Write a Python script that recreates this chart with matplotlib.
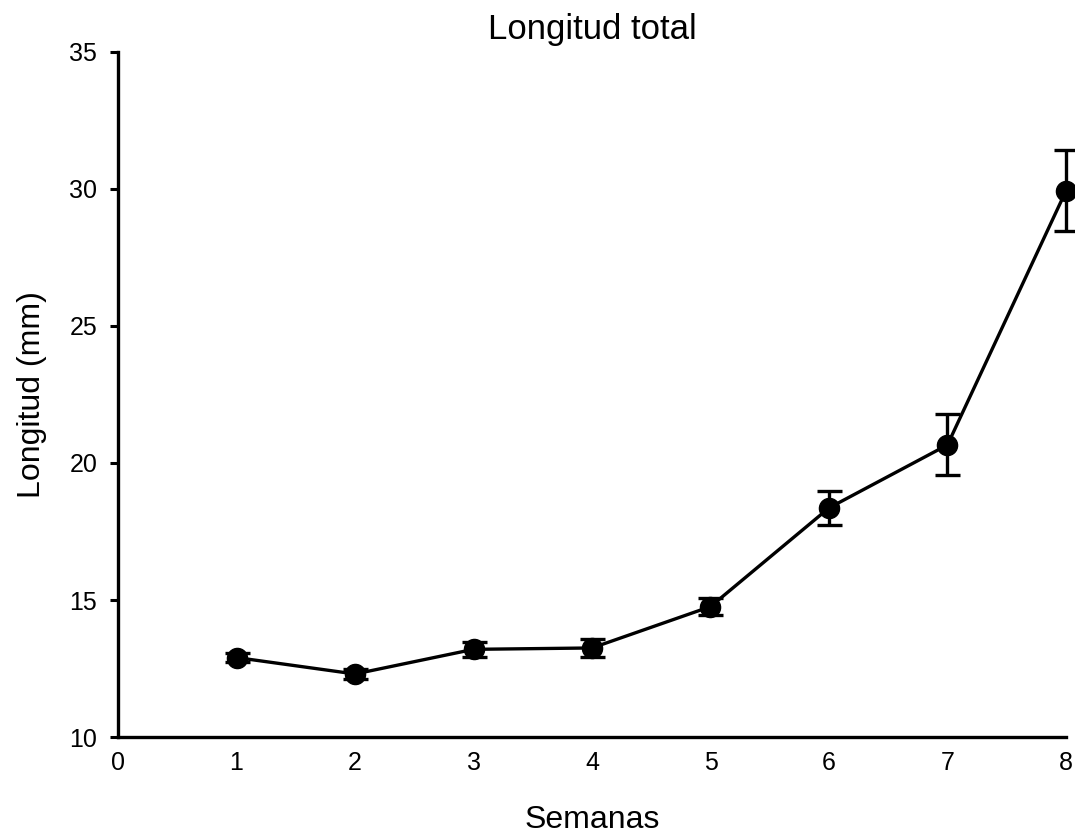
import matplotlib.pyplot as plt

plt.rcParams['font.family'] = ['Liberation Sans', 'DejaVu Sans']

# weeks and mean total length (mm) with error
semanas = [1, 2, 3, 4, 5, 6, 7, 8]
longitud = [12.9, 12.3, 13.2, 13.25, 14.76, 18.36, 20.66, 29.93]
error = [0.15, 0.17, 0.27, 0.32, 0.3, 0.62, 1.11, 1.48]

fig = plt.figure(figsize=(10.75, 8.38), dpi=100)
ax = fig.add_axes([0.1098, 0.1205, 0.8818, 0.8175])

ax.errorbar(semanas, longitud, yerr=error, color='black', marker='o',
            markersize=14.5, linewidth=2.4, elinewidth=2.4, capsize=9,
            capthick=2.4, clip_on=False)

ax.set_xlim(0, 8)
ax.set_ylim(10, 35)
ax.set_xticks(range(0, 9))
ax.set_yticks([10, 15, 20, 25, 30, 35])
ax.tick_params(axis='x', length=0, pad=10, labelsize=18)
ax.tick_params(axis='y', length=6, width=2.2, direction='out', pad=9, labelsize=18)

for s in ['top', 'right']:
    ax.spines[s].set_visible(False)
for s in ['left', 'bottom']:
    ax.spines[s].set_linewidth(2.4)

ax.set_title("Longitud total", fontsize=25, pad=9)
ax.set_xlabel("Semanas", fontsize=23, labelpad=22)
ax.set_ylabel("Longitud (mm)", fontsize=23, labelpad=16)

plt.savefig("out.png", dpi=100)
